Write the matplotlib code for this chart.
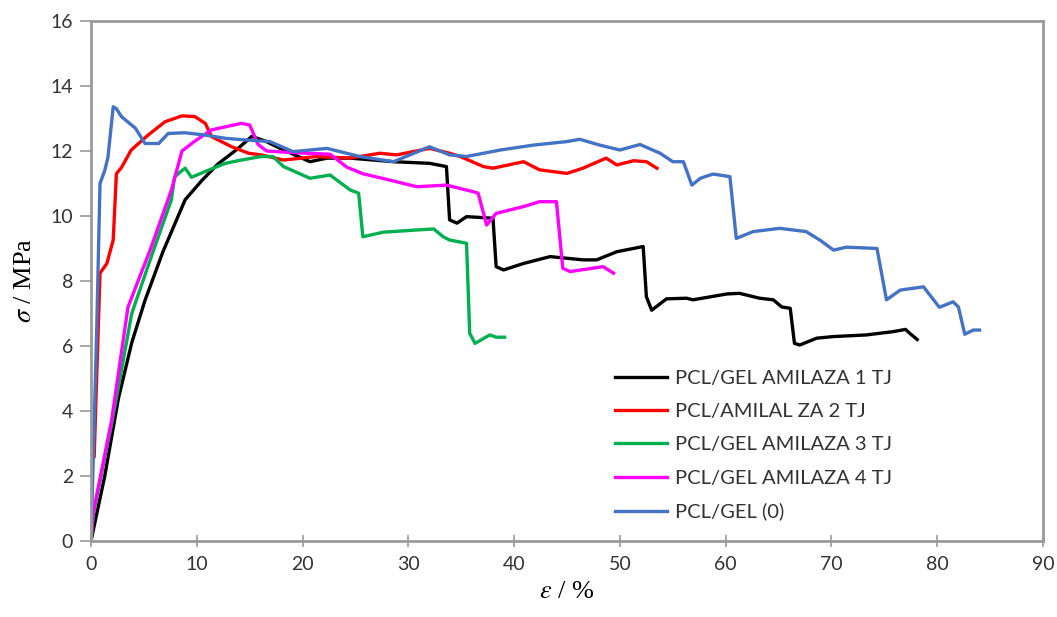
import matplotlib
matplotlib.use("Agg")
import matplotlib.pyplot as plt

# ---- data ----
labels = ["PCL/GEL AMILAZA 1 TJ", "PCL/AMILAL ZA 2 TJ", "PCL/GEL AMILAZA 3 TJ",
          "PCL/GEL AMILAZA 4 TJ", "PCL/GEL (0)"]
colors = ["#000000", "#FF0000", "#00B050", "#FF00FF", "#4472C4"]

x1 = [0, 1.3, 2.6, 3.85, 5.1, 6.8, 8.9, 10.5, 12.0, 13.8, 15.2, 16.5, 18.2, 20.7, 22.3,
      24.5, 28.6, 32.0, 33.6, 33.9, 34.6, 35.5, 38.0, 38.3, 39.0, 40.9, 43.4, 46.5, 47.8,
      49.7, 52.2, 52.5, 53.0, 54.4, 56.3, 56.9, 60.1, 61.3, 63.2, 64.5, 65.3, 66.1, 66.5,
      67.0, 68.6, 70.2, 73.3, 75.8, 77.0, 77.4, 78.1]
y1 = [0, 2.0, 4.4, 6.1, 7.4, 8.9, 10.5, 11.1, 11.6, 12.05, 12.45, 12.3, 12.03, 11.67, 11.78,
      11.78, 11.67, 11.62, 11.52, 9.88, 9.78, 9.98, 9.93, 8.44, 8.34, 8.54, 8.75, 8.65, 8.65,
      8.9, 9.06, 7.52, 7.1, 7.45, 7.47, 7.42, 7.6, 7.62, 7.47, 7.42, 7.2, 7.16, 6.08,
      6.03, 6.24, 6.29, 6.34, 6.44, 6.51, 6.39, 6.2]

x2 = [0.3, 0.85, 1.5, 2.1, 2.4, 2.9, 3.8, 5.4, 7.0, 8.6, 9.8, 10.8, 11.4, 13.3, 14.9, 16.1,
      18.2, 21.3, 24.5, 27.3, 28.9, 32.0, 33.9, 34.9, 37.1, 38.0, 40.9, 42.4, 45.0, 46.5,
      48.7, 49.7, 51.3, 52.5, 53.5]
y2 = [2.6, 8.24, 8.54, 9.26, 11.3, 11.5, 12.03, 12.49, 12.9, 13.08, 13.06, 12.85, 12.44,
      12.13, 11.93, 11.88, 11.72, 11.83, 11.78, 11.93, 11.88, 12.08, 11.93, 11.83, 11.52,
      11.47, 11.67, 11.42, 11.31, 11.47, 11.78, 11.57, 11.7, 11.67, 11.47]

x3 = [0, 0.2, 1.95, 3.85, 5.7, 7.6, 7.9, 8.6, 8.9, 9.5, 10.8, 12.7, 14.2, 16.1, 17.2, 18.2,
      20.7, 22.6, 24.5, 25.3, 25.7, 27.6, 30.8, 32.4, 33.3, 33.9, 35.5, 35.8, 36.3, 37.7,
      38.3, 39.1]
y3 = [0, 0.8, 3.6, 7.0, 8.75, 10.5, 11.2, 11.4, 11.47, 11.19, 11.37, 11.62, 11.72, 11.83,
      11.83, 11.52, 11.16, 11.26, 10.8, 10.7, 9.36, 9.5, 9.57, 9.6, 9.36, 9.26, 9.16, 6.39,
      6.08, 6.34, 6.27, 6.27]

x4 = [0, 0.2, 1.95, 3.5, 5.7, 7.6, 8.6, 9.8, 11.4, 14.2, 15.0, 15.8, 16.6, 19.0, 22.6,
      24.2, 25.7, 28.3, 30.8, 33.6, 36.1, 36.6, 37.4, 38.3, 40.9, 42.4, 44.0, 44.6, 45.3,
      48.4, 49.4]
y4 = [0, 0.86, 3.72, 7.2, 9.05, 10.8, 12.0, 12.3, 12.65, 12.85, 12.8, 12.2, 12.0, 11.95,
      11.9, 11.5, 11.3, 11.1, 10.9, 10.95, 10.75, 10.7, 9.72, 10.08, 10.29, 10.44, 10.44,
      8.39, 8.29, 8.44, 8.24]

x5 = [0, 0.54, 0.85, 1.3, 1.6, 2.1, 2.4, 2.9, 4.2, 5.1, 6.4, 7.3, 8.9, 10.8, 12.7, 14.6,
      16.9, 19.1, 22.3, 25.4, 28.6, 32.0, 33.9, 35.5, 38.7, 41.8, 45.0, 46.2, 48.1, 50.0,
      51.9, 53.8, 55.0, 56.0, 56.8, 57.6, 58.8, 60.4, 61.0, 62.6, 65.1, 67.6, 68.9, 70.2,
      71.4, 74.3, 75.2, 76.5, 78.7, 80.2, 81.5, 82.0, 82.6, 83.4, 84.0]
y5 = [0, 6.5, 11.0, 11.4, 11.8, 13.36, 13.3, 13.05, 12.7, 12.23, 12.23, 12.54, 12.56,
      12.49, 12.39, 12.34, 12.29, 11.98, 12.08, 11.83, 11.67, 12.13, 11.88, 11.83, 12.03,
      12.18, 12.29, 12.36, 12.18, 12.03, 12.2, 11.93, 11.67, 11.67, 10.95, 11.16, 11.29,
      11.21, 9.31, 9.52, 9.62, 9.52, 9.26, 8.95, 9.04, 9.0, 7.42, 7.72, 7.82, 7.19, 7.36,
      7.2, 6.36, 6.49, 6.49]

series_x = [x1, x2, x3, x4, x5]
series_y = [y1, y2, y3, y4, y5]

xticks = list(range(0, 91, 10))
yticks = list(range(0, 17, 2))

# ---- figure ----
plt.rcParams["mathtext.fontset"] = "stix"
fig = plt.figure(figsize=(10.57, 6.17), dpi=100)
ax = fig.add_axes([0.0861, 0.1232, 0.9007, 0.8428])

tick_font = ["Liberation Sans Narrow", "Lato", "DejaVu Sans"]

for xs, ys, c, lab in zip(series_x, series_y, colors, labels):
    ax.plot(xs, ys, color=c, lw=2.4, label=lab, solid_joinstyle="round")

ax.set_xlim(0, 90)
ax.set_ylim(0, 16)
ax.set_xticks(xticks)
ax.set_yticks(yticks)
for sp in ax.spines.values():
    sp.set_color("#9a9a9a")
    sp.set_linewidth(2)
ax.tick_params(axis="x", direction="inout", length=9, width=1.2, color="#9a9a9a",
               labelsize=14, pad=6, labelcolor="#333333")
ax.tick_params(axis="y", direction="out", length=8, width=1.2, color="#9a9a9a",
               labelsize=14, pad=5, labelcolor="#333333")
for t in ax.get_xticklabels() + ax.get_yticklabels():
    t.set_fontfamily(tick_font)

ax.set_xlabel(r"$\varepsilon$ / %", fontsize=19, family="Liberation Serif", labelpad=6)
ax.set_ylabel(r"$\sigma$ / MPa", fontsize=19, family="Liberation Serif", labelpad=10)

leg = ax.legend(loc="upper left", bbox_to_anchor=(0.531, 0.364), frameon=False,
                handlelength=2.6, handletextpad=0.4, labelspacing=0.8,
                prop={"family": ["Lato", "DejaVu Sans"], "size": 14.5})
for t in leg.get_texts():
    t.set_color("#333333")

fig.savefig("out.png", dpi=100)
